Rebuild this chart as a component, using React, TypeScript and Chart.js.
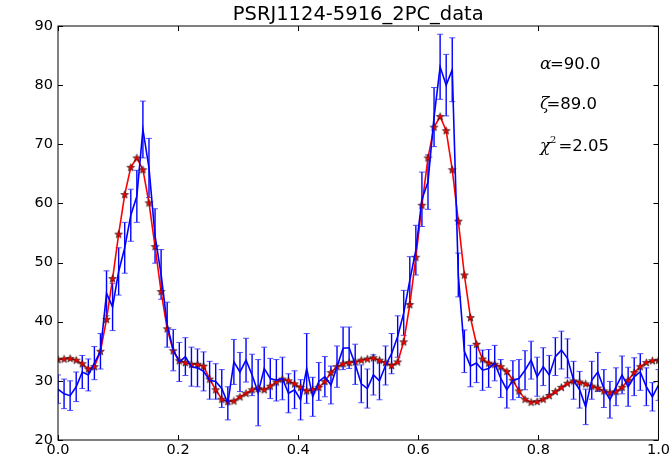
import React, { useEffect, useRef } from 'react';
import { Chart, registerables } from 'chart.js';

Chart.register(...registerables);

// Phase bins (100 bins spanning 0..1)
const phase: number[] = Array.from({ length: 100 }, (_, i) => i / 99);

// Observed light curve (blue, with error bars)
const countsData: number[] = [
  28.6, 27.8, 27.5, 29.0, 31.5, 31.0, 33.0, 35.0, 44.8, 42.5,
  48.5, 52.5, 58.0, 61.2, 72.5, 66.0, 54.5, 48.0, 39.5, 35.2,
  33.2, 34.1, 32.4, 32.2, 31.6, 30.1, 29.9, 28.7, 26.2, 33.2,
  31.5, 33.5, 31.0, 28.0, 32.1, 30.4, 30.1, 30.4, 27.9, 28.5,
  26.8, 32.1, 27.3, 29.9, 30.7, 29.3, 32.4, 35.5, 35.6, 32.8,
  29.5, 28.7, 31.0, 30.0, 32.6, 34.6, 37.5, 41.5, 47.0, 52.1,
  60.7, 63.6, 74.6, 83.1, 80.0, 82.6, 47.9, 35.0, 32.5, 33.0,
  31.8, 32.1, 33.0, 30.4, 28.5, 30.1, 30.4, 31.8, 33.5, 30.7,
  32.4, 31.0, 34.1, 35.2, 33.8, 30.1, 28.5, 25.6, 30.1, 31.5,
  28.7, 26.8, 29.0, 31.0, 29.0, 30.7, 31.5, 29.0, 27.3, 29.3,
];

const countsErr: number[] = [
  2.4, 2.5, 2.5, 2.5, 2.8, 2.7, 2.8, 3.0,
  3.8, 4.0, 4.0, 4.3, 4.4, 4.4, 4.8, 5.0, 4.6, 4.2,
  3.8, 3.5, 3.3, 3.2, 3.3, 3.2, 3.3, 3.2, 3.0, 3.2, 2.8,
  3.8, 3.3, 3.7, 3.5, 5.6, 3.6, 3.4, 3.5, 3.6, 3.3, 3.2, 3.4, 5.9, 3.3, 3.2, 3.4, 3.2, 3.5,
  3.6, 3.5, 3.4, 3.2, 3.3, 3.4, 3.2, 3.3, 3.4, 3.5, 3.8,
  4.0, 4.2, 4.6, 4.6, 5.0, 5.5, 5.2, 5.4, 3.7,
  3.6, 3.5, 3.3, 3.4, 3.2, 3.0, 3.2, 3.1, 3.3, 3.2, 3.3, 3.2, 3.3, 3.2, 3.3, 3.2,
  3.2, 3.3, 3.2, 3.1, 3.0, 3.2, 3.3, 3.2, 3.1, 3.2, 3.2, 3.3, 3.2, 3.1, 3.2, 2.4, 2.6,
];

// Model fit (red line with star markers)
const modelFit: number[] = [
  33.6, 33.7, 33.8, 33.5, 32.9, 32.0, 32.4, 35.0, 40.4, 47.3,
  54.8, 61.5, 66.1, 67.7, 65.7, 60.1, 52.7, 45.1, 38.8, 35.1,
  33.4, 33.1, 32.8, 32.8, 32.5, 30.3, 28.5, 26.9, 26.5, 26.6,
  27.3, 27.9, 28.5, 28.7, 28.5, 29.1, 29.8, 30.3, 30.0, 29.5,
  28.9, 28.3, 28.5, 28.9, 29.9, 31.4, 32.4, 32.9, 33.1, 33.2,
  33.5, 33.7, 33.9, 33.5, 33.1, 32.6, 33.2, 36.6, 42.9, 50.9,
  59.7, 67.7, 72.9, 74.7, 72.3, 65.7, 57.0, 47.9, 40.7, 36.2,
  33.7, 33.0, 32.8, 32.4, 31.6, 30.1, 28.3, 26.9, 26.4, 26.5,
  26.9, 27.5, 28.2, 28.9, 29.6, 30.0, 29.8, 29.5, 29.1, 28.8,
  28.3, 28.0, 28.2, 28.9, 30.1, 31.4, 32.4, 33.1, 33.4, 33.5,
];

const xTicks: number[] = [0, 0.2, 0.4, 0.6, 0.8, 1.0];
const yTicks: number[] = [20, 30, 40, 50, 60, 70, 80, 90];

const titleText = 'PSRJ1124-5916_2PC_data';
const annoSymbols: string[] = ['α', 'ζ', 'χ'];
const annoSuper: string[] = ['', '', '2'];
const annoValues: string[] = ['=90.0', '=89.0', '=2.05'];

const SANS = "'DejaVu Sans', 'Bitstream Vera Sans', sans-serif";

function makeStar(): HTMLCanvasElement {
  const c = document.createElement('canvas');
  c.width = 11;
  c.height = 11;
  const g = c.getContext('2d')!;
  const cx = 5.5, cy = 5.8, R = 4.1, r = 1.7;
  g.beginPath();
  for (let k = 0; k < 10; k++) {
    const ang = -Math.PI / 2 + (k * Math.PI) / 5;
    const rad = k % 2 === 0 ? R : r;
    const px = cx + rad * Math.cos(ang);
    const py = cy + rad * Math.sin(ang);
    if (k === 0) g.moveTo(px, py);
    else g.lineTo(px, py);
  }
  g.closePath();
  g.fillStyle = '#f00000';
  g.fill();
  g.lineWidth = 0.6;
  g.strokeStyle = '#111';
  g.stroke();
  return c;
}

const errorBarPlugin = {
  id: 'errbars',
  beforeDatasetsDraw(chart: any) {
    const { ctx, chartArea, scales } = chart;
    const xs = scales.x, ys = scales.y;
    ctx.save();
    ctx.beginPath();
    ctx.rect(chartArea.left, chartArea.top, chartArea.right - chartArea.left, chartArea.bottom - chartArea.top);
    ctx.clip();
    phase.forEach((p, i) => {
      const px = xs.getPixelForValue(p);
      const top = ys.getPixelForValue(countsData[i] + countsErr[i]);
      const bot = ys.getPixelForValue(countsData[i] - countsErr[i]);
      ctx.strokeStyle = '#0000ff';
      ctx.lineWidth = 1.4;
      ctx.beginPath();
      ctx.moveTo(px, top);
      ctx.lineTo(px, bot);
      ctx.stroke();
      ctx.lineWidth = 1;
      ctx.strokeStyle = 'rgba(40,40,255,0.8)';
      ctx.beginPath();
      ctx.moveTo(px - 3, top);
      ctx.lineTo(px + 3, top);
      ctx.moveTo(px - 3, bot);
      ctx.lineTo(px + 3, bot);
      ctx.stroke();
    });
    ctx.restore();
  },
};

const framePlugin = {
  id: 'frame',
  afterDraw(chart: any) {
    const { ctx, chartArea, scales } = chart;
    const { left, right, top, bottom } = chartArea;
    const xs = scales.x, ys = scales.y;
    ctx.save();
    ctx.strokeStyle = '#000';
    ctx.lineWidth = 1;
    ctx.strokeRect(left, top, right - left, bottom - top);
    const tl = 5;
    ctx.beginPath();
    xTicks.forEach((t) => {
      const px = Math.round(xs.getPixelForValue(t)) + 0.5;
      ctx.moveTo(px, bottom);
      ctx.lineTo(px, bottom - tl);
      ctx.moveTo(px, top);
      ctx.lineTo(px, top + tl);
    });
    yTicks.forEach((t) => {
      const py = Math.round(ys.getPixelForValue(t)) + 0.5;
      ctx.moveTo(left, py);
      ctx.lineTo(left + tl, py);
      ctx.moveTo(right, py);
      ctx.lineTo(right - tl, py);
    });
    ctx.stroke();

    // title
    ctx.fillStyle = '#000';
    ctx.font = `19.5px ${SANS}`;
    ctx.textAlign = 'center';
    ctx.textBaseline = 'alphabetic';
    ctx.fillText(titleText, (left + right) / 2, 20);

    // annotations
    const baselines = [69, 109, 151];
    const valueX = [550, 546.5, 558.5];
    ctx.textAlign = 'left';
    annoSymbols.forEach((s, i) => {
      ctx.font = `italic 17px 'DejaVu Serif', serif`;
      ctx.fillText(s, 540, baselines[i]);
      if (annoSuper[i]) {
        ctx.font = `10px 'DejaVu Serif', serif`;
        ctx.fillText(annoSuper[i], 550, baselines[i] - 8);
      }
      ctx.font = `16.5px ${SANS}`;
      ctx.fillText(annoValues[i], valueX[i], baselines[i]);
    });
    ctx.restore();
  },
};

export default function App() {
  const ref = useRef<HTMLCanvasElement | null>(null);
  useEffect(() => {
    if (!ref.current) return;
    const star = makeStar();
    const chart = new Chart(ref.current, {
      type: 'line',
      data: {
        datasets: [
          {
            label: 'data',
            data: phase.map((p, i) => ({ x: p, y: countsData[i] })),
            borderColor: '#0000ff',
            borderWidth: 1.6,
            pointRadius: 0,
            tension: 0,
            fill: false,
          },
          {
            label: 'model',
            data: phase.map((p, i) => ({ x: p, y: modelFit[i] })),
            borderColor: '#ff0000',
            borderWidth: 1.6,
            pointStyle: star as any,
            pointRadius: 4,
            tension: 0,
            fill: false,
          },
        ],
      },
      options: {
        animation: false,
        responsive: false,
        devicePixelRatio: 1,
        layout: { padding: { left: 0, top: 26, right: 13, bottom: 0 } },
        plugins: {
          legend: { display: false },
          title: { display: false },
          tooltip: { enabled: false },
        },
        scales: {
          x: {
            type: 'linear',
            min: 0,
            max: 1,
            afterBuildTicks: (s: any) => {
              s.ticks = xTicks.map((v) => ({ value: v }));
            },
            afterFit: (s: any) => {
              s.height = 22;
            },
            grid: { display: false, drawTicks: false },
            border: { display: false },
            ticks: {
              color: '#000',
              padding: 2,
              maxRotation: 0,
              font: { family: SANS, size: 14.5 },
              callback: (v: any) => Number(v).toFixed(1),
            },
          },
          y: {
            type: 'linear',
            min: 20,
            max: 90,
            afterBuildTicks: (s: any) => {
              s.ticks = yTicks.map((v) => ({ value: v }));
            },
            afterFit: (s: any) => {
              s.width = 58;
            },
            grid: { display: false, drawTicks: false },
            border: { display: false },
            ticks: {
              color: '#000',
              padding: 5,
              font: { family: SANS, size: 14.5 },
              callback: (v: any) => String(Math.round(Number(v))),
            },
          },
        },
      },
      plugins: [errorBarPlugin, framePlugin],
    });
    return () => chart.destroy();
  }, []);
  return (
    <div style={{ position: 'absolute', left: 0, top: 0, width: 672, height: 462, background: '#fff' }}>
      <canvas ref={ref} width={672} height={462} style={{ display: 'block' }} />
    </div>
  );
}
